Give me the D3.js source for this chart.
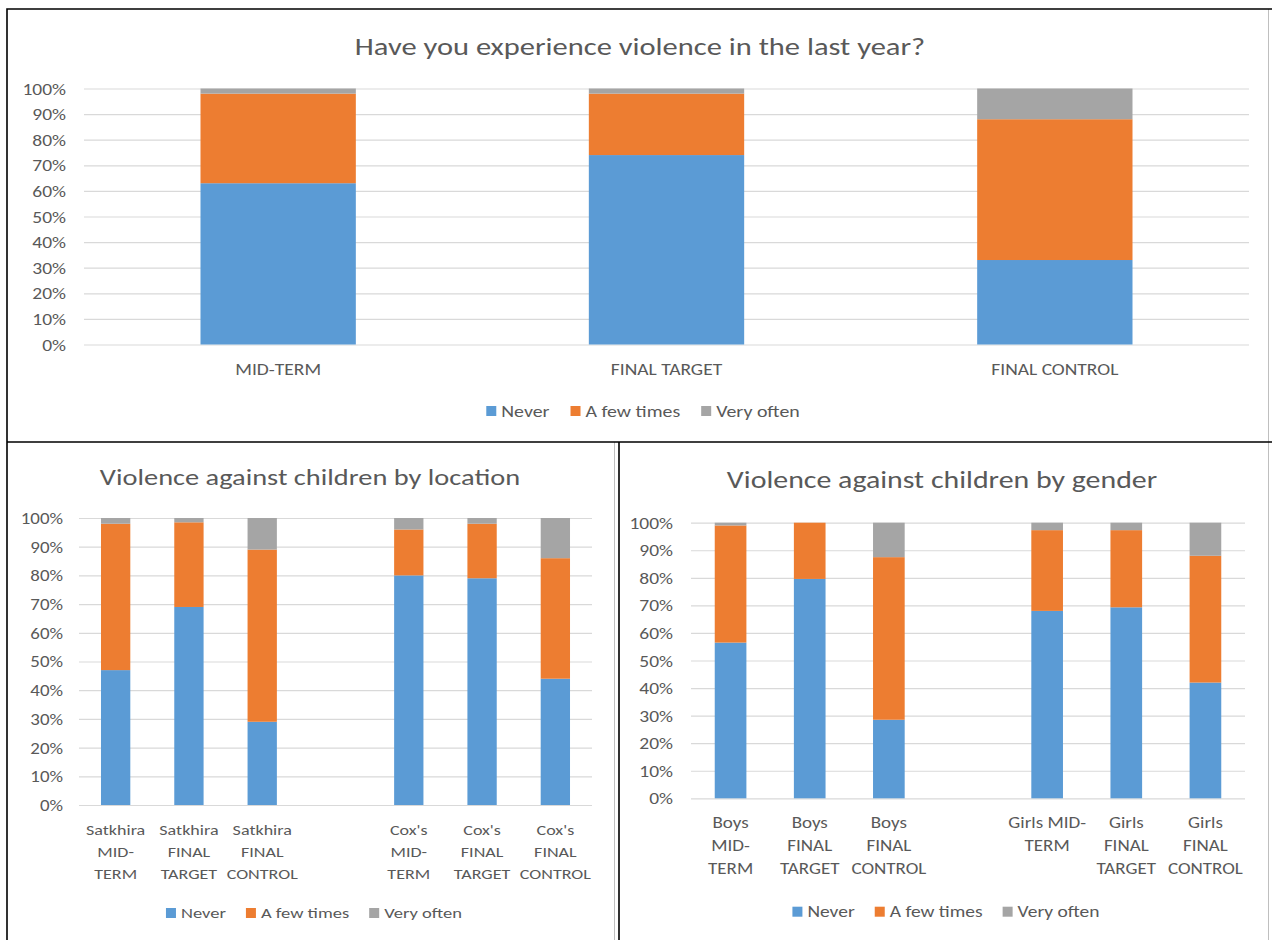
<!DOCTYPE html>
<html>
<head>
<meta charset="utf-8">
<script src="https://cdn.jsdelivr.net/npm/d3@7"></script>
<style>
  body { margin: 0; background: #fff; }
  svg text { font-family: Carlito, Lato, "Open Sans", sans-serif; fill: #595959; }
</style>
</head>
<body>
<svg id="chart" width="1272" height="940"></svg>
<script>
// series shared by all three charts
const seriesNames = ['Never', 'A few times', 'Very often'];
const seriesColors = ['#5B9BD5', '#ED7D31', '#A5A5A5'];
const yTicks = [0, 10, 20, 30, 40, 50, 60, 70, 80, 90, 100];

// chart 1: whole sample
const yearCats = ['MID-TERM', 'FINAL TARGET', 'FINAL CONTROL'];
const yearLabels = [['MID-TERM'], ['FINAL TARGET'], ['FINAL CONTROL']];
const yearNever = [63, 74, 33];
const yearFew = [35, 24, 55];
const yearOften = [2, 2, 12];

// chart 2: by location (empty slot between the two districts)
const locCats = ['Satkhira MID-TERM', 'Satkhira FINAL TARGET', 'Satkhira FINAL CONTROL', '',
  "Cox's MID-TERM", "Cox's FINAL TARGET", "Cox's FINAL CONTROL"];
const locLabels = [['Satkhira', 'MID-', 'TERM'], ['Satkhira', 'FINAL', 'TARGET'], ['Satkhira', 'FINAL', 'CONTROL'], [],
  ["Cox's", 'MID-', 'TERM'], ["Cox's", 'FINAL', 'TARGET'], ["Cox's", 'FINAL', 'CONTROL']];
const locNever = [47, 69, 29, null, 80, 79, 44];
const locFew = [51, 29.5, 60, null, 16, 19, 42];
const locOften = [2, 1.5, 11, null, 4, 2, 14];

// chart 3: by gender
const genCats = ['Boys MID-TERM', 'Boys FINAL TARGET', 'Boys FINAL CONTROL', '',
  'Girls MID-TERM', 'Girls FINAL TARGET', 'Girls FINAL CONTROL'];
const genLabels = [['Boys', 'MID-', 'TERM'], ['Boys', 'FINAL', 'TARGET'], ['Boys', 'FINAL', 'CONTROL'], [],
  ['Girls MID-', 'TERM'], ['Girls', 'FINAL', 'TARGET'], ['Girls', 'FINAL', 'CONTROL']];
const genNever = [56.5, 79.6, 28.5, null, 68, 69.3, 42];
const genFew = [42.5, 20.4, 59, null, 29.3, 28, 46];
const genOften = [1, 0, 12.5, null, 2.7, 2.7, 12];

// the source screenshot is stretched sideways, so text is widened to match
const SX = 1.22;

const svg = d3.select('#chart');

function drawPanel(o) {
  const rows = o.cats.map(function (c, i) {
    return { cat: c, Never: o.never[i], 'A few times': o.few[i], 'Very often': o.often[i] };
  });

  const x = d3.scaleBand().
  domain(o.cats).
  range([o.x0, o.x1]).
  paddingInner(0.6).
  paddingOuter(0.3);

  const y = d3.scaleLinear().
  domain([0, 100]).
  range([o.y1, o.y0]);

  // y axis + gridlines
  const yAxis = d3.axisLeft(y).
  tickValues(yTicks).
  tickSize(-(o.x1 - o.x0)).
  tickPadding(o.yPad).
  tickFormat(d => d + '%');

  const yg = svg.append('g').
  attr('transform', 'translate(' + o.x0 + ',0)').
  call(yAxis);
  yg.attr('font-family', null);
  yg.select('.domain').remove();
  yg.selectAll('.tick line').
  attr('stroke', '#D9D9D9').
  attr('stroke-width', 1.2);
  yg.selectAll('.tick text').
  attr('x', 0).
  attr('dy', '0.35em').
  attr('font-size', o.ySize).
  attr('transform', 'translate(' + -o.yPad + ',0) scale(' + SX + ',1)');

  // stacked bars
  const stack = d3.stack().keys(seriesNames).value((d, k) => d[k] == null ? 0 : d[k]);
  const layers = stack(rows.filter(r => r.Never != null));

  svg.append('g').
  selectAll('g').
  data(layers).
  enter().
  append('g').
  attr('fill', (d, i) => seriesColors[i]).
  selectAll('rect').
  data(d => d).
  enter().
  append('rect').
  attr('x', d => x(d.data.cat)).
  attr('width', x.bandwidth()).
  attr('y', d => y(d[1])).
  attr('height', d => y(d[0]) - y(d[1]));

  // category labels (wrapped like the source)
  const xAxis = d3.axisBottom(x).tickSize(0).tickFormat('');
  const xg = svg.append('g').
  attr('transform', 'translate(0,' + o.y1 + ')').
  call(xAxis);
  xg.attr('font-family', null);
  xg.select('.domain').remove();
  xg.selectAll('.tick').each(function (c) {
    const lines = o.labels[o.cats.indexOf(c)];
    const t = d3.select(this).select('text').
    attr('y', 0).
    attr('dy', null).
    attr('font-size', o.catSize).
    attr('text-anchor', 'middle').
    attr('transform', 'scale(' + SX + ',1)');
    lines.forEach(function (ln, j) {
      t.append('tspan').
      attr('x', 0).
      attr('y', o.catY - o.y1 + j * o.catLine).
      text(ln);
    });
  });

  // title
  svg.append('text').
  attr('transform', 'translate(' + o.titleX + ',' + o.titleY + ') scale(' + SX + ',1)').
  attr('text-anchor', 'middle').
  attr('font-size', o.titleSize).
  text(o.title);

  // legend
  const lg = svg.append('g');
  let cx = 0;
  seriesNames.forEach(function (name, i) {
    lg.append('rect').
    attr('x', cx).
    attr('y', o.legendY - 5).
    attr('width', 10).
    attr('height', 10).
    attr('fill', seriesColors[i]);
    const t = lg.append('text').
    attr('transform', 'translate(' + (cx + 15) + ',' + o.legendY + ') scale(' + SX + ',1)').
    attr('dy', '0.35em').
    attr('font-size', o.legendSize).
    text(name);
    cx += 15 + t.node().getComputedTextLength() * SX + o.legendGap;
  });
  const lw = cx - o.legendGap;
  lg.attr('transform', 'translate(' + (o.legendX - lw / 2) + ',0)');
}

drawPanel({
  title: 'Have you experience violence in the last year?',
  titleX: 640, titleY: 55, titleSize: 25,
  cats: yearCats, labels: yearLabels,
  never: yearNever, few: yearFew, often: yearOften,
  x0: 84, x1: 1249, y0: 88.5, y1: 344.5,
  yPad: 18, ySize: 16,
  catY: 375, catLine: 20, catSize: 16,
  legendY: 411, legendX: 643, legendSize: 16.3, legendGap: 21 });

drawPanel({
  title: 'Violence against children by location',
  titleX: 310, titleY: 485, titleSize: 23.3,
  cats: locCats, labels: locLabels,
  never: locNever, few: locFew, often: locOften,
  x0: 79, x1: 592, y0: 518, y1: 805,
  yPad: 16, ySize: 15.5,
  catY: 835.5, catLine: 21.7, catSize: 14.8,
  legendY: 913, legendX: 314, legendSize: 15.2, legendGap: 20 });

drawPanel({
  title: 'Violence against children by gender',
  titleX: 942, titleY: 488, titleSize: 24.5,
  cats: genCats, labels: genLabels,
  never: genNever, few: genFew, often: genOften,
  x0: 691, x1: 1245, y0: 522.7, y1: 798.3,
  yPad: 18, ySize: 16,
  catY: 828.5, catLine: 23, catSize: 15.6,
  legendY: 911.7, legendX: 946, legendSize: 16, legendGap: 20 });

// panel frames
const frame = svg.append('g').attr('fill', 'none');
frame.append('path').
attr('d', 'M1268.5,9V940M614.5,442V940').
attr('stroke', '#BFBFBF').
attr('stroke-width', 1);
frame.append('path').
attr('d', 'M7,940V9H1272M7,442H1272M619,442V940').
attr('stroke', '#000').
attr('stroke-width', 1.6);
</script>
</body>
</html>
